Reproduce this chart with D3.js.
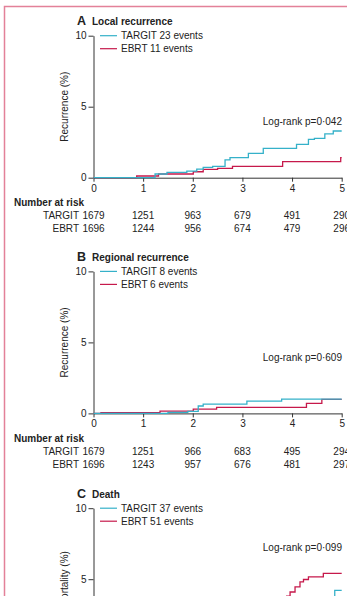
<!DOCTYPE html>
<html>
<head>
<meta charset="UTF-8">
<style>
  body { margin: 0; background: #fff; }
  svg { display: block; }
  text { font-family: "Liberation Sans Narrow", "Liberation Sans", Arial, sans-serif; fill: #222; }
  .axis path, .axis line { stroke: #333; }
</style>
</head>
<body>
<svg></svg>
<script src="https://d3js.org/d3.v7.min.js"></script>
<script>

// ---- data (years, cumulative %) ----
const years = [0, 1, 2, 3, 4, 5];
const pctTicks = [0, 5, 10];

const localTargit = [[0,0],[1.24,0.26],[1.48,0.38],[1.88,0.47],[2.08,0.61],[2.21,0.73],[2.4,0.8],[2.65,1.25],[2.75,1.41],[3.12,1.71],[3.42,2.06],[4.09,2.35],[4.33,2.7],[4.45,2.77],[4.66,3.08],[4.83,3.29],[5,3.29]];
const localEbrt = [[0,0],[0.87,0.12],[1.31,0.26],[2.01,0.42],[2.21,0.59],[2.5,0.66],[2.8,0.8],[3.81,1.13],[4.98,1.41],[5,1.41]];

const regionalTargit = [[0,0],[1.5,0.07],[1.9,0.14],[2.11,0.52],[2.21,0.65],[3.09,0.87],[3.79,1.0],[5,1.0]];
const regionalEbrt = [[0,0],[0.15,0.06],[1.34,0.16],[2.01,0.3],[2.48,0.42],[4.29,0.7],[4.6,0.99],[5,0.99]];

const deathTargit = [[0,0],[0.5,0.2],[1,0.5],[1.5,0.9],[2,1.3],[2.5,1.8],[3,2.3],[3.5,2.8],[4,3.1],[4.5,3.5],[4.86,4.22],[5,4.22]];
const deathEbrt = [[0,0],[0.5,0.3],[1,0.8],[1.5,1.3],[2,2.0],[2.5,2.6],[3,3.1],[3.5,3.5],[3.89,3.8],[3.96,4.1],[4.06,4.46],[4.16,4.81],[4.23,4.98],[4.33,5.17],[4.63,5.41],[5,5.41]];

const localRiskTargit = [1679, 1251, 963, 679, 491, 290];
const localRiskEbrt = [1696, 1244, 956, 674, 479, 296];
const regionalRiskTargit = [1679, 1251, 966, 683, 495, 294];
const regionalRiskEbrt = [1696, 1243, 957, 676, 481, 297];

const panelLetters = ["A", "B", "C"];
const panelTitles = ["Local recurrence", "Regional recurrence", "Death"];
const yTitles = ["Recurrence (%)", "Recurrence (%)", "Mortality (%)"];
const targitLabels = ["TARGIT 23 events", "TARGIT 8 events", "TARGIT 37 events"];
const ebrtLabels = ["EBRT 11 events", "EBRT 6 events", "EBRT 51 events"];
const logRank = ["Log-rank p=0\u00b7042", "Log-rank p=0\u00b7609", "Log-rank p=0\u00b7099"];
const logRankAt = [3.7, 3.7, 7.0];   // in % units of each panel

let width = 347, height = 596;
const targitColor = "#35b1c9", ebrtColor = "#c6194b";

let svg = d3.select("svg").attr("width", width).attr("height", height);

// pink frame of the page
svg.append("rect")
  .attr("x", 4.5).attr("y", 6.5)
  .attr("width", width + 20).attr("height", height + 20)
  .attr("fill", "none").attr("stroke", "#e38199").attr("stroke-width", 1.5);

let x = d3.scaleLinear().domain([0, 5]).range([93.5, 341.7]);

function drawPanel(i, top, curves, risk) {
  let y = d3.scaleLinear().domain([0, 10]).range([top + 142, top]);
  let g = svg.append("g");

  g.append("text").attr("x", 77).attr("y", top - 10.5)
    .style("font-size", "12.5px").style("font-weight", "bold").text(panelLetters[i]);
  g.append("text").attr("x", 92).attr("y", top - 10.5)
    .style("font-size", "10px").style("font-weight", "600").text(panelTitles[i]);

  // axes
  let yAxis = d3.axisLeft(y).tickValues(pctTicks).tickFormat(d3.format("d"))
    .tickSize(5).tickPadding(2).tickSizeOuter(0);
  g.append("g").attr("class", "axis").attr("transform", "translate(" + x(0) + ",0)").call(yAxis)
    .call(a => a.selectAll("text").style("font-size", "10px").attr("fill", "#222"));
  let xAxis = d3.axisBottom(x).tickValues(years).tickFormat(d3.format("d"))
    .tickSize(4).tickPadding(3).tickSizeOuter(0);
  g.append("g").attr("class", "axis").attr("transform", "translate(0," + y(0) + ")").call(xAxis)
    .call(a => a.selectAll("text").style("font-size", "10px").attr("fill", "#222"));
  g.selectAll(".axis").attr("font-family", null);

  g.append("text")
    .attr("transform", "translate(68," + y(5) + ") rotate(-90)")
    .attr("text-anchor", "middle").style("font-size", "10px").text(yTitles[i]);

  // curves
  let line = d3.line().x(d => x(d[0])).y(d => y(d[1])).curve(d3.curveStepAfter);
  g.append("path").datum(curves[1]).attr("d", line)
    .attr("fill", "none").attr("stroke", ebrtColor).attr("stroke-width", 1.3);
  g.append("path").datum(curves[0]).attr("d", line)
    .attr("fill", "none").attr("stroke", targitColor).attr("stroke-width", 1.3);

  // legend
  [[targitLabels[i], targitColor], [ebrtLabels[i], ebrtColor]].forEach((l, k) => {
    let ly = top + k * 13;
    g.append("line").attr("x1", 100).attr("x2", 117).attr("y1", ly).attr("y2", ly)
      .attr("stroke", l[1]).attr("stroke-width", 1.2);
    g.append("text").attr("x", 121).attr("y", ly + 3.5).style("font-size", "10px").text(l[0]);
  });

  g.append("text").attr("x", 342).attr("y", y(logRankAt[i]))
    .attr("text-anchor", "end").style("font-size", "10px").text(logRank[i]);

  if (risk) {
    let y0 = y(0);
    g.append("text").attr("x", 14).attr("y", y0 + 28.5)
      .style("font-size", "10px").style("font-weight", "bold").text("Number at risk");
    [["TARGIT", risk[0]], ["EBRT", risk[1]]].forEach((r, k) => {
      let ry = y0 + 41.5 + k * 13;
      g.append("text").attr("x", 79).attr("y", ry).attr("text-anchor", "end")
        .style("font-size", "10px").text(r[0]);
      g.selectAll(null).data(r[1]).enter().append("text")
        .attr("x", (d, j) => x(years[j])).attr("y", ry)
        .attr("text-anchor", "middle").style("font-size", "10px").text(d => d);
    });
  }
}

drawPanel(0, 35.7, [localTargit, localEbrt], [localRiskTargit, localRiskEbrt]);
drawPanel(1, 271.4, [regionalTargit, regionalEbrt], [regionalRiskTargit, regionalRiskEbrt]);
drawPanel(2, 508.2, [deathTargit, deathEbrt], null);

</script>
</body>
</html>
